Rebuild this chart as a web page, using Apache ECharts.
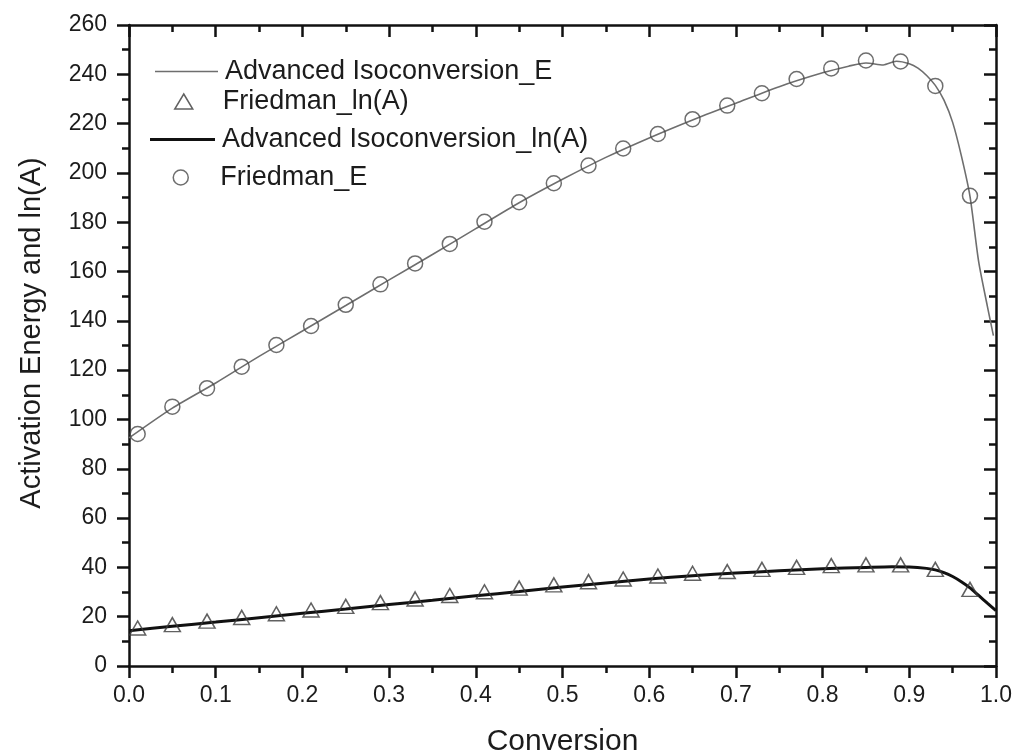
<!DOCTYPE html>
<html>
<head>
<meta charset="utf-8">
<script src="https://cdn.jsdelivr.net/npm/echarts@6/dist/echarts.min.js"></script>
<style>
html,body{margin:0;padding:0;background:#fff;}
#chart{width:1016px;height:755px;}
</style>
</head>
<body>
<div id="chart"></div>
<script>
// Advanced Isoconversion_E (thin gray line)
var advEX = [0, 0.05, 0.10, 0.15, 0.20, 0.25, 0.30, 0.35, 0.40, 0.45, 0.50, 0.55, 0.60, 0.65, 0.70, 0.75, 0.80, 0.83, 0.85, 0.87, 0.885, 0.90, 0.91, 0.92, 0.93, 0.94, 0.95, 0.96, 0.97, 0.98, 0.99, 0.997];
var advEY = [92.5, 104.6, 114.8, 125.6, 135.9, 146.2, 156.6, 166.9, 177.4, 187.9, 197.4, 206.3, 214.2, 221.5, 228.3, 235.0, 240.6, 243.3, 244.6, 243.8, 245.3, 244.3, 242.5, 239.5, 235.5, 229.5, 220.5, 207.0, 190.5, 164.0, 146.0, 134.0];

// Advanced Isoconversion_ln(A) (thick black line)
var advLnX = [0, 0.05, 0.10, 0.15, 0.20, 0.25, 0.30, 0.35, 0.40, 0.45, 0.50, 0.55, 0.60, 0.65, 0.70, 0.75, 0.80, 0.85, 0.88, 0.90, 0.92, 0.93, 0.94, 0.95, 0.96, 0.97, 0.98, 0.99, 1.0];
var advLnY = [14.3, 16.1, 17.8, 19.6, 21.4, 23.1, 24.9, 26.7, 28.5, 30.2, 32.0, 33.7, 35.3, 36.6, 37.7, 38.6, 39.4, 40.0, 40.3, 40.2, 39.6, 39.0, 37.9, 36.3, 34.2, 31.7, 28.6, 25.5, 22.5];

// Friedman markers
var friedmanX = [0.01, 0.05, 0.09, 0.13, 0.17, 0.21, 0.25, 0.29, 0.33, 0.37, 0.41, 0.45, 0.49, 0.53, 0.57, 0.61, 0.65, 0.69, 0.73, 0.77, 0.81, 0.85, 0.89, 0.93, 0.97];
var friedmanE = [94.1, 105.2, 112.7, 121.4, 130.2, 137.9, 146.5, 154.8, 163.3, 171.2, 180.2, 188.1, 195.8, 203.0, 209.9, 215.8, 221.8, 227.3, 232.3, 238.1, 242.4, 245.6, 245.2, 235.3, 190.7];
var friedmanLnA = [15.4, 16.8, 18.2, 19.7, 21.2, 22.7, 24.2, 25.7, 27.2, 28.6, 30.1, 31.6, 32.9, 34.2, 35.3, 36.5, 37.6, 38.3, 39.2, 40.0, 40.7, 41.0, 41.0, 39.2, 31.1];

var xTicks = ['0.0','0.1','0.2','0.3','0.4','0.5','0.6','0.7','0.8','0.9','1.0'];

function zip(a, b) { return a.map(function (v, i) { return [v, b[i]]; }); }

var FONT = 'Liberation Sans, Arial, sans-serif';
var TXT = '#1c1c1c';

var chart = echarts.init(document.getElementById('chart'), null, {renderer: 'canvas'});

function legendAt(name, left, top, w, h, icon, padLeft, itemStyle) {
  var item = {name: name, icon: icon};
  if (itemStyle) item.itemStyle = itemStyle;
  return {
    data: [item],
    left: left, top: top,
    orient: 'vertical',
    itemWidth: w, itemHeight: h,
    selectedMode: false,
    textStyle: {fontFamily: FONT, fontSize: 27, color: TXT, padding: [0, 0, 0, padLeft]}
  };
}

var option = {
  backgroundColor: '#fff',
  animation: false,
  grid: {left: 129, right: 20, top: 25, bottom: 89, containLabel: false, outerBoundsMode: 'none'},
  legend: [
    legendAt('Advanced Isoconversion_E', 150, 53, 63, 1.6, 'rect', 2, {color: '#6e6e6e', borderWidth: 0}),
    legendAt('Friedman_ln(A)', 169, 83, 18, 15, 'triangle', 25, {color: 'rgba(255,255,255,0)', borderColor: '#3a3a3a', borderWidth: 1.5}),
    legendAt('Advanced Isoconversion_ln(A)', 145, 121, 65, 3, 'rect', 2, {color: '#111', borderWidth: 0}),
    legendAt('Friedman_E', 167.5, 159, 15, 15, 'circle', 27, {color: 'rgba(255,255,255,0)', borderColor: '#4a4a4a', borderWidth: 1.5})
  ],
  xAxis: [{
    type: 'value', min: 0, max: 1, interval: 0.1,
    name: 'Conversion', nameLocation: 'middle', nameGap: 61,
    nameTextStyle: {fontFamily: FONT, fontSize: 30, color: TXT},
    axisLine: {show: true, onZero: false, lineStyle: {color: '#111', width: 2.5}},
    axisTick: {show: true, inside: false, length: 12, lineStyle: {color: '#111', width: 2.5}},
    minorTick: {show: true, splitNumber: 2, length: 7, lineStyle: {color: '#111', width: 2.5}},
    axisLabel: {margin: 18, fontFamily: FONT, fontSize: 23, color: TXT,
      formatter: function (v) { return xTicks[Math.round(v * 10)]; }},
    splitLine: {show: false}
  }, {
    type: 'value', min: 0, max: 1, interval: 0.1, position: 'top',
    axisLine: {show: true, onZero: false, lineStyle: {color: '#111', width: 2.5}},
    axisTick: {show: true, inside: true, length: 12, lineStyle: {color: '#111', width: 2.5}},
    minorTick: {show: true, splitNumber: 2, length: 7, lineStyle: {color: '#111', width: 2.5}},
    axisLabel: {show: false},
    splitLine: {show: false}
  }],
  yAxis: [{
    type: 'value', min: 0, max: 260, interval: 20,
    name: 'Activation Energy and ln(A)', nameLocation: 'middle', nameGap: 83,
    nameTextStyle: {fontFamily: FONT, fontSize: 29, color: TXT, padding: [0, 0, 0, 25]},
    axisLine: {show: true, onZero: false, lineStyle: {color: '#111', width: 2.5}},
    axisTick: {show: true, inside: false, length: 12, lineStyle: {color: '#111', width: 2.5}},
    minorTick: {show: true, splitNumber: 2, length: 7, lineStyle: {color: '#111', width: 2.5}},
    axisLabel: {margin: 22, fontFamily: FONT, fontSize: 23, color: TXT},
    splitLine: {show: false}
  }, {
    type: 'value', min: 0, max: 260, interval: 20, position: 'right',
    axisLine: {show: true, onZero: false, lineStyle: {color: '#111', width: 2.5}},
    axisTick: {show: true, inside: true, length: 12, lineStyle: {color: '#111', width: 2.5}},
    minorTick: {show: true, splitNumber: 2, length: 7, lineStyle: {color: '#111', width: 2.5}},
    axisLabel: {show: false},
    splitLine: {show: false}
  }],
  series: [{
    name: 'Advanced Isoconversion_E', type: 'line',
    data: zip(advEX, advEY), symbol: 'none', smooth: 0.25,
    lineStyle: {color: '#6e6e6e', width: 1.6}, itemStyle: {color: '#6e6e6e'}, z: 2
  }, {
    name: 'Friedman_ln(A)', type: 'scatter',
    data: zip(friedmanX, friedmanLnA), symbol: 'triangle', symbolSize: [16, 14],
    itemStyle: {color: 'rgba(255,255,255,0)', borderColor: '#3a3a3a', borderWidth: 1.5}, z: 4
  }, {
    name: 'Advanced Isoconversion_ln(A)', type: 'line',
    data: zip(advLnX, advLnY), symbol: 'none', smooth: 0.25,
    lineStyle: {color: '#111', width: 3}, itemStyle: {color: '#111'}, z: 3
  }, {
    name: 'Friedman_E', type: 'scatter',
    data: zip(friedmanX, friedmanE), symbol: 'circle', symbolSize: 15,
    itemStyle: {color: 'rgba(255,255,255,0)', borderColor: '#4a4a4a', borderWidth: 1.5}, z: 4
  }]
};
chart.setOption(option);
</script>
</body>
</html>
